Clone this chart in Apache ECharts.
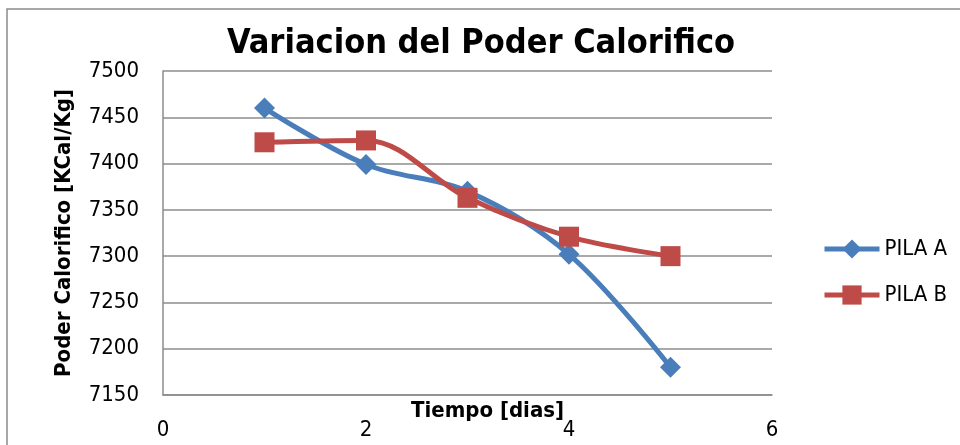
<!DOCTYPE html>
<html>
<head>
<meta charset="utf-8">
<script src="https://cdn.jsdelivr.net/npm/echarts@6/dist/echarts.min.js"></script>
<style>
  html, body { margin: 0; padding: 0; background: #fff; }
  #chart { width: 960px; height: 445px; }
</style>
</head>
<body>
<div id="chart"></div>
<script>
// Data
const days = [1, 2, 3, 4, 5];
const pilaA = [7460, 7399, 7370, 7302, 7180];
const pilaB = [7423, 7425, 7363, 7321, 7300];
const seriesNames = ["PILA A", "PILA B"];

const FONT = "'DejaVu Sans Condensed', 'Open Sans', sans-serif";

const chart = echarts.init(document.getElementById("chart"));

const toPoints = (vals) => days.map((d, i) => [d, vals[i]]);

chart.setOption({
  backgroundColor: "#fff",
  animation: false,
  textStyle: { fontFamily: FONT, color: "#000" },
  title: {
    text: "Variacion del Poder Calorifico",
    left: 476,
    textAlign: "center",
    top: 22,
    textStyle: { fontSize: 34, fontWeight: "bold", fontFamily: FONT, color: "#000" },
  },
  graphic: [
    {
      type: "rect",
      shape: { x: 7, y: 9, width: 1000, height: 500 },
      style: { fill: "none", stroke: "#8c8c8c", lineWidth: 1.5 },
      silent: true,
    },
  ],
  legend: {
    orient: "vertical",
    left: 817,
    top: 233,
    itemGap: 24,
    itemWidth: 55,
    itemHeight: 24,
    lineStyle: { width: 5 },
    textStyle: { fontSize: 22, fontFamily: FONT, color: "#000" },
    data: seriesNames,
  },
  grid: { left: 163, right: 188, top: 71, bottom: 50, outerBoundsMode: "none" },
  xAxis: {
    type: "value",
    min: 0,
    max: 6,
    interval: 2,
    name: "Tiempo [dias]",
    nameLocation: "middle",
    nameGap: 5,
    nameMoveOverlap: false,
    nameTextStyle: {
      fontSize: 22, fontWeight: "bold", fontFamily: FONT, color: "#000",
      padding: [0, 0, 0, 40],
    },
    axisLine: { show: true, lineStyle: { color: "#8c8c8c", width: 1.5 } },
    axisTick: { show: false },
    splitLine: { show: false },
    axisLabel: { fontSize: 22, color: "#000", margin: 24, fontFamily: FONT },
  },
  yAxis: {
    type: "value",
    min: 7150,
    max: 7500,
    interval: 50,
    name: "Poder Calorifico [KCal/Kg]",
    nameLocation: "middle",
    nameGap: 88,
    nameMoveOverlap: false,
    nameTextStyle: { fontSize: 22, fontWeight: "bold", fontFamily: FONT, color: "#000" },
    axisLine: { show: true, lineStyle: { color: "#8c8c8c", width: 1.5 } },
    axisTick: { show: false },
    splitLine: { show: true, lineStyle: { color: "#8c8c8c", width: 1.5 } },
    axisLabel: { fontSize: 22, color: "#000", margin: 24, fontFamily: FONT, formatter: (v) => String(v) },
  },
  series: [
    {
      name: seriesNames[0],
      type: "line",
      data: toPoints(pilaA),
      smooth: 0.35,
      symbol: "diamond",
      symbolSize: 21,
      itemStyle: { color: "#4a7ebb" },
      lineStyle: { color: "#4a7ebb", width: 5 },
    },
    {
      name: seriesNames[1],
      type: "line",
      data: toPoints(pilaB),
      smooth: 0.35,
      symbol: "rect",
      symbolSize: 20,
      itemStyle: { color: "#be4b48" },
      lineStyle: { color: "#be4b48", width: 5 },
    },
  ],
});
</script>
</body>
</html>
